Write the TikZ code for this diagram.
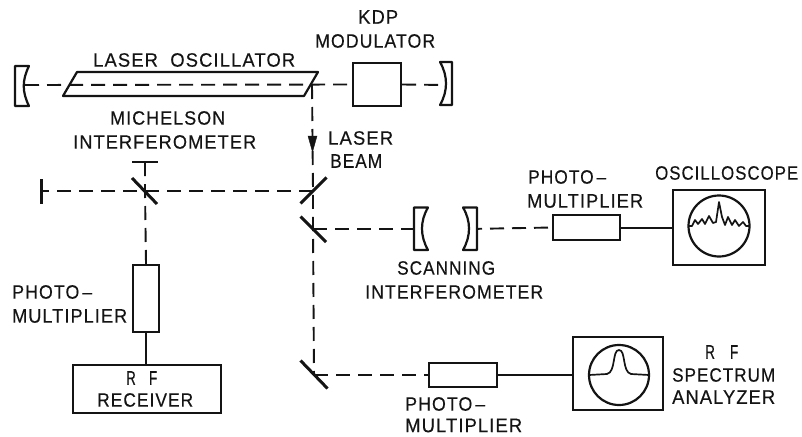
\documentclass[tikz,border=0pt]{standalone}
\usepackage{fontspec}
\usepackage{graphicx}
\setmainfont[LetterSpace=6,FakeBold=0.35]{Liberation Sans}
\usetikzlibrary{arrows.meta}
\definecolor{ink}{gray}{0.08}
\newcommand{\lbl}[2]{\resizebox{#1pt}{13.5pt}{#2}}
\tikzset{
  lab/.style={inner sep=0pt,anchor=west,text=ink,font=\fontsize{18}{18}\selectfont},
  beam/.style={draw=ink,line width=1.9pt,dash pattern=on 14pt off 8pt},
  wire/.style={draw=ink,line width=2pt},
  box/.style={draw=ink,line width=2.3pt,inner sep=0pt,fill=white},
  part/.style={draw=ink,line width=2.2pt,line join=round},
  mir/.style={draw=ink,line width=3pt},
  trace/.style={draw=ink,line width=1.7pt,line join=round}
}
\begin{document}
\begin{tikzpicture}[x=1pt,y=-1pt]
\useasboundingbox (0,0) rectangle (802,436);
% reference points
\coordinate (mL) at (25,85);
\coordinate (mR) at (446,85);
\coordinate (turn) at (312,85);
\coordinate (m1) at (313,191);
\coordinate (m2) at (313,229);
\coordinate (m3) at (314,375);
\coordinate (bs) at (145,191);
\coordinate (endL) at (41,191);
\coordinate (endT) at (145,162);
\coordinate (sL) at (422,229);
\coordinate (sR) at (468,229);
% boxes
\node[box,minimum width=48pt,minimum height=43pt] (kdp) at (377,84.5) {};
\node[box,minimum width=26pt,minimum height=67pt] (pmA) at (146,298.5) {};
\node[box,minimum width=148pt,minimum height=48pt] (rx) at (147,389) {};
\node[box,minimum width=67pt,minimum height=25pt] (pmB) at (586.5,227.5) {};
\node[box,minimum width=92pt,minimum height=75pt] (osc) at (719,227.5) {};
\node[box,minimum width=68pt,minimum height=24pt] (pmC) at (463,375) {};
\node[box,minimum width=90pt,minimum height=73pt] (sa) at (618,373.5) {};
% beams
\draw[beam] (mL) -- (kdp.west);
\draw[beam] (kdp.east) -- (mR);
\draw[beam] (turn) -- (m1) -- (m2) -- (m3);
\draw[beam] (m1) -- (bs) -- (endL);
\draw[beam] (endT) -- (bs) -- (pmA.north);
\draw[beam] (m2) -- (sL);
\draw[beam] (sR) -- (pmB.west);
\draw[beam] (m3) -- (pmC.west);
% solid connectors
\draw[wire] (pmA.south) -- (pmA.south |- rx.north);
\draw[wire] (pmB.east) -- (osc.west);
\draw[wire] (pmC.east) -- (pmC.east -| sa.west);
% laser tube
\draw[part] (77,72) -- (318,72) -- (304,96) -- (63,96) -- cycle;
% curved mirrors
\draw[part,fill=white] (15,66) -- (29,66) .. controls (22,80) and (22,92) .. (29,106) -- (15,106) -- cycle;
\draw[part,fill=white] (452,62) -- (440,62) .. controls (448,76) and (448,91) .. (440,105) -- (452,105) -- cycle;
\draw[part,fill=white] (414,207.5) -- (428,207.5) .. controls (420,221) and (420,236) .. (428,250) -- (414,250) -- cycle;
\draw[part,fill=white] (477,207.5) -- (463,207.5) .. controls (471,221) and (471,236) .. (463,250) -- (477,250) -- cycle;
% flat mirrors
\draw[mir] (m1)+(13.5,-13.5) -- +(-12.5,12.5);
\draw[mir] (m2)+(-12.5,-12.5) -- +(13,13);
\draw[mir] (m3)+(-13.5,-14.5) -- +(13.5,13.5);
\draw[mir] (bs)+(-13,-13) -- +(12,13);
\draw[mir] (41,179) -- (41,204);
\draw[wire] (132,162) -- (158,162);
% arrow
\draw[draw=ink,fill=ink] (308,136) -- (317,136) -- (312.5,152) -- cycle;
% screens
\draw[part] (osc.center)+(0,-1.5) circle (30.5);
\draw[part] (sa.center)+(1,1.5) circle (30);
\draw[trace] (689,226) -- (692,226) -- (695,220) -- (698,224) -- (702,219) -- (705,224) -- (709,216) -- (713,223) -- (716,222) -- (719,202) -- (722,217) -- (725,225) -- (728,217) -- (732,225) -- (735,220) -- (739,226) -- (743,222) -- (746,226) -- (749,226);
\draw[trace] (589,375) -- (607,374) .. controls (616,372) and (612,350) .. (619,350) .. controls (626,350) and (622,372) .. (631,374) -- (649,375);
% labels
\node[lab] (t1) at (358,17) {\lbl{40}{KDP}};
\node[lab] (t2) at (315,41) {\lbl{120}{MODULATOR}};
\node[lab] (t3) at (93,60) {\lbl{202}{LASER\hspace{6pt} OSCILLATOR}};
\node[lab] (t4) at (110,118) {\lbl{115}{MICHELSON}};
\node[lab] (t5) at (73,142) {\lbl{183}{INTERFEROMETER}};
\node[lab] (t6) at (328,138) {\lbl{65}{LASER}};
\node[lab] (t7) at (330,161) {\lbl{52}{BEAM}};
\node[lab] (t8) at (528,177) {\lbl{78}{PHOTO\,--}};
\node[lab] (t9) at (527,201) {\lbl{116}{MULTIPLIER}};
\node[lab] (t10) at (655,173) {\lbl{143}{OSCILLOSCOPE}};
\node[lab] (t11) at (397,268) {\lbl{98}{SCANNING}};
\node[lab] (t12) at (365,292) {\lbl{178}{INTERFEROMETER}};
\node[lab] (t13) at (12,292) {\lbl{80}{PHOTO\,--}};
\node[lab] (t14) at (12,316) {\lbl{115}{MULTIPLIER}};
\node[lab] (t15) at (405,404) {\lbl{80}{PHOTO\,--}};
\node[lab] (t16) at (405,425.5) {\lbl{117}{MULTIPLIER}};
\node[lab] (t17) at (705,352) {\lbl{33}{R\hspace{14pt} F}};
\node[lab] (t18) at (672,375) {\lbl{103}{SPECTRUM}};
\node[lab] (t19) at (672,397) {\lbl{103}{ANALYZER}};
\node[lab] (t20) at (126,378) {\lbl{31}{R\hspace{12pt} F}};
\node[lab] (t21) at (97,400) {\lbl{96}{RECEIVER}};
\end{tikzpicture}
\end{document}
